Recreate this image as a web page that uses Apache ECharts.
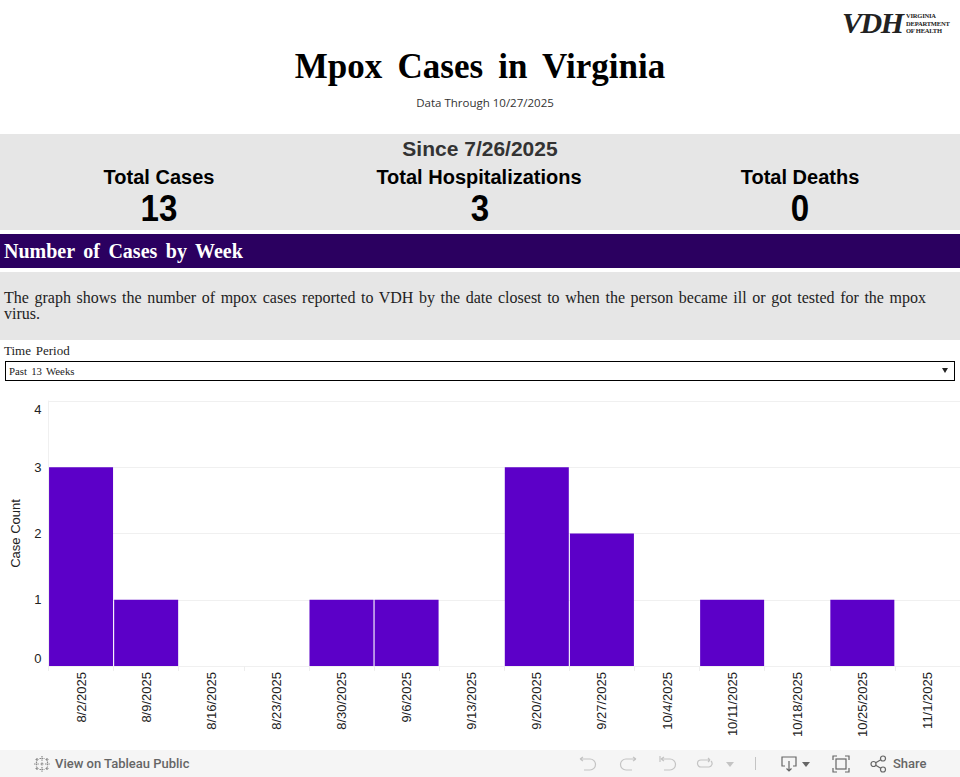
<!DOCTYPE html>
<html>
<head>
<meta charset="utf-8">
<title>Mpox Cases in Virginia</title>
<script src="https://cdn.jsdelivr.net/npm/echarts@6/dist/echarts.min.js"></script>
<style>
html, body { margin: 0; padding: 0; background: #fff; }
#page { position: relative; width: 960px; height: 777px; overflow: hidden; background: #fff; }
#page > div { position: absolute; }
.ctr { text-align: center; white-space: nowrap; }
.serif { font-family: "Liberation Serif", serif; }
.sans { font-family: "Liberation Sans", sans-serif; font-weight: bold; }
.num { font-size: 36px; line-height: 42px; color: #000; transform: scaleX(0.92); }
.tb { font-family: Roboto, "Noto Sans", sans-serif; font-size: 13px; font-weight: 500; color: #666; line-height: 16px; }
svg.ic { position: absolute; fill: none; stroke: #8a8a8a; stroke-width: 1.2; }
</style>
</head>
<body>
<div id="page">
  <div class="serif" style="left:842px;top:7px;width:62px;font-size:30px;line-height:32px;font-style:italic;font-weight:bold;color:#222;letter-spacing:-1.5px;white-space:nowrap">VDH</div>
  <div class="serif" style="left:906px;top:12px;font-size:6.5px;line-height:7.5px;font-weight:bold;color:#222;white-space:nowrap;letter-spacing:-0.2px">VIRGINIA<br>DEPARTMENT<br>OF HEALTH</div>

  <div class="ctr serif" style="left:0;top:45px;width:960px;font-size:35px;line-height:44px;font-weight:bold;color:#000;word-spacing:6.5px">Mpox Cases in Virginia</div>
  <div class="ctr" style="left:5px;top:95px;width:960px;font:11.5px/16px 'Open Sans',sans-serif;color:#333">Data Through 10/27/2025</div>

  <div style="left:0;top:134px;width:960px;height:96px;background:#e6e6e6"></div>
  <div class="ctr sans" style="left:0;top:136px;width:960px;font-size:21px;line-height:26px;color:#333">Since 7/26/2025</div>
  <div class="ctr sans" style="left:0;top:165px;width:318px;font-size:20px;line-height:24px;color:#000">Total Cases</div>
  <div class="ctr sans" style="left:320px;top:165px;width:318px;font-size:20px;line-height:24px;color:#000">Total Hospitalizations</div>
  <div class="ctr sans" style="left:640px;top:165px;width:320px;font-size:20px;line-height:24px;color:#000">Total Deaths</div>
  <div class="ctr sans num" style="left:0;top:188px;width:318px">13</div>
  <div class="ctr sans num" style="left:321px;top:188px;width:318px">3</div>
  <div class="ctr sans num" style="left:640px;top:188px;width:320px">0</div>

  <div style="left:0;top:234px;width:960px;height:34px;background:#2b0060"></div>
  <div class="serif" style="left:4px;top:239px;font-size:20px;line-height:24px;font-weight:bold;color:#fff;word-spacing:3.5px;white-space:nowrap">Number of Cases by Week</div>

  <div style="left:0;top:272px;width:960px;height:68px;background:#e6e6e6"></div>
  <div class="serif" style="left:4px;top:290px;width:922px;font-size:16px;line-height:16px;color:#222;word-spacing:0.8px;text-align:justify">The graph shows the number of mpox cases reported to VDH by the date closest to when the person became ill or got tested for the mpox virus.</div>

  <div class="serif" style="left:4px;top:343px;font-size:13px;line-height:16px;color:#222;word-spacing:1.5px">Time Period</div>
  <div style="left:5px;top:361px;width:948px;height:18px;border:1px solid #000;background:#fff"></div>
  <div class="serif" style="left:9px;top:364px;font-size:10.8px;line-height:14px;color:#222;word-spacing:1.5px">Past 13 Weeks</div>
  <div style="left:942px;top:368px;width:0;height:0;border-left:3.5px solid transparent;border-right:3.5px solid transparent;border-top:5px solid #222"></div>

  <div id="chart" style="left:0;top:390px;width:960px;height:360px"></div>

  <div style="left:0;top:750px;width:960px;height:27px;background:#f5f5f5"></div>
  <svg class="ic" style="left:33px;top:755px" width="18" height="18" viewBox="0 0 18 18"><path d="M9 1v5M6.5 3.5h5M9 12v5M6.5 14.5h5M1 9h5M3.5 6.5v5M12 9h5M14.5 6.5v5M4 3v3M2.5 4.5h3M14 3v3M12.5 4.5h3M4 12v3M2.5 13.5h3M14 12v3M12.5 13.5h3M9 7.5v3M7.5 9h3" stroke-dasharray="1.5 0.6"/></svg>
  <div class="tb" style="left:55px;top:756px">View on Tableau Public</div>
  <svg class="ic" style="left:578px;top:755px;stroke:#c4c4c4" width="20" height="18" viewBox="0 0 20 18"><path d="M2 4h10a5 5 0 0 1 0 11H6M2 4l3-2M2 4l3 2"/></svg>
  <svg class="ic" style="left:618px;top:755px;stroke:#c4c4c4" width="20" height="18" viewBox="0 0 20 18"><path d="M18 4H8a5 5 0 0 0 0 11h6M18 4l-3-2M18 4l-3 2"/></svg>
  <svg class="ic" style="left:658px;top:755px;stroke:#c4c4c4" width="20" height="18" viewBox="0 0 20 18"><path d="M2 1v6M3 4h9a5 5 0 0 1 0 11H6M3 4l3-2M3 4l3 2"/></svg>
  <svg class="ic" style="left:695px;top:755px;stroke:#c4c4c4" width="20" height="18" viewBox="0 0 20 18"><path d="M15 5H6a3.5 3.5 0 0 0 0 7h8a3.5 3.5 0 0 0 2-6M15 5l-2-2M15 5l-2 2"/></svg>
  <div style="left:726px;top:762px;width:0;height:0;border-left:4px solid transparent;border-right:4px solid transparent;border-top:5px solid #c4c4c4"></div>
  <div style="left:755px;top:757px;width:1px;height:13px;background:#c4c4c4"></div>
  <svg class="ic" style="left:781px;top:755px;stroke:#666" width="18" height="18" viewBox="0 0 18 18"><path d="M4 11H1V2h14v9h-3M8 6v10M5.5 13.5L8 16l2.5-2.5"/></svg>
  <div style="left:802px;top:762px;width:0;height:0;border-left:4px solid transparent;border-right:4px solid transparent;border-top:5px solid #666"></div>
  <svg class="ic" style="left:832px;top:755px;stroke:#666" width="18" height="18" viewBox="0 0 18 18"><path d="M1 5V1h4M13 1h4v4M17 13v4h-4M5 17H1v-4"/><rect x="4" y="4" width="10" height="10"/></svg>
  <svg class="ic" style="left:870px;top:755px;stroke:#666" width="18" height="18" viewBox="0 0 18 18"><circle cx="3.5" cy="9" r="2.5"/><circle cx="13" cy="3.5" r="2.5"/><circle cx="13" cy="14.5" r="2.5"/><path d="M5.7 7.7l5.1-3M5.7 10.3l5.1 3"/></svg>
  <div class="tb" style="left:893px;top:756px">Share</div>
</div>
<script>
var weeks = ['8/2/2025', '8/9/2025', '8/16/2025', '8/23/2025', '8/30/2025', '9/6/2025', '9/13/2025',
    '9/20/2025', '9/27/2025', '10/4/2025', '10/11/2025', '10/18/2025', '10/25/2025', '11/1/2025'];
var caseCounts = [3, 1, 0, 0, 1, 1, 0, 3, 2, 0, 1, 0, 1, 0];

var myChart = echarts.init(document.getElementById('chart'), null, { renderer: 'svg' });
var option = {
    animation: false,
    textStyle: { fontFamily: '"Liberation Sans", Arial, sans-serif' },
    grid: { left: 48.5, right: 0, top: 11, height: 265, outerBoundsMode: 'none' },
    xAxis: {
        type: 'category',
        data: weeks,
        axisLine: { show: true, lineStyle: { color: '#f0f0f0' } },
        axisTick: { show: true, length: 5, lineStyle: { color: '#eeeeee' } },
        axisLabel: { rotate: 90, interval: 0, margin: 6, fontSize: 13, color: '#222' }
    },
    yAxis: {
        type: 'value',
        min: 0,
        max: 4,
        interval: 1,
        name: 'Case Count',
        nameLocation: 'middle',
        nameGap: 27,
        nameTextStyle: { fontSize: 13, color: '#222' },
        axisLine: { show: true, lineStyle: { color: '#f0f0f0' } },
        axisTick: { show: false },
        axisLabel: {
            margin: 7, fontSize: 13, lineHeight: 16, color: '#222',
            verticalAlignMinLabel: 'bottom', verticalAlignMaxLabel: 'top'
        },
        splitLine: { lineStyle: { color: '#f0f0f0' } }
    },
    series: [{
        name: 'Case Count',
        type: 'bar',
        data: caseCounts,
        barWidth: 64,
        itemStyle: { color: '#5c00c8' }
    }]
};
myChart.setOption(option);
</script>
</body>
</html>
